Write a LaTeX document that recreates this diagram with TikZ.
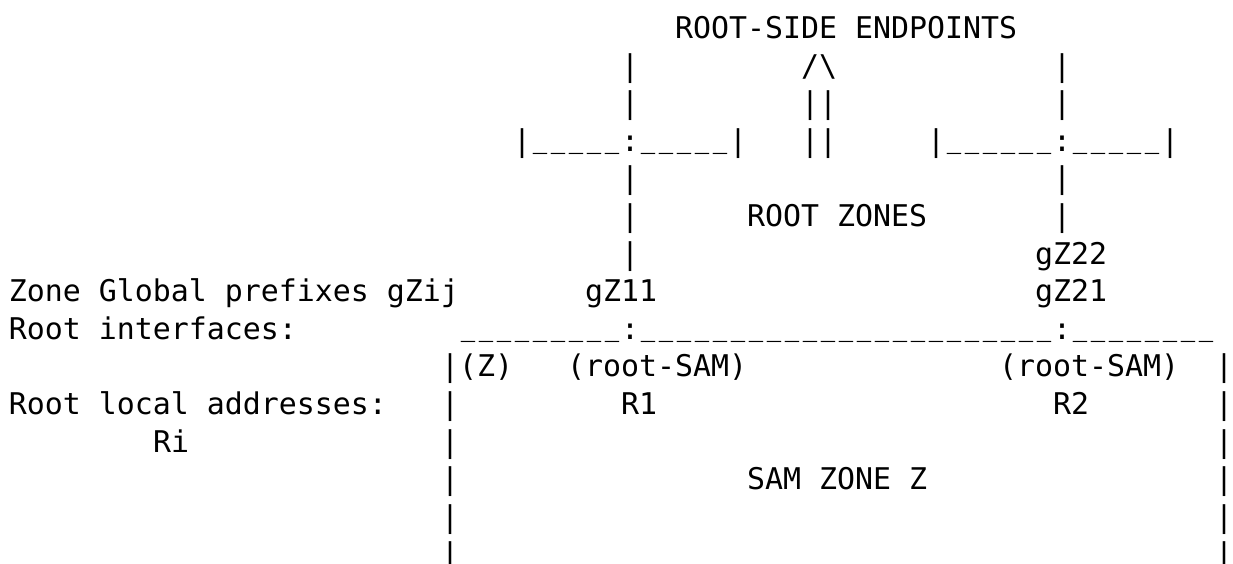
\documentclass[tikz,border=0pt]{standalone}
\usepackage{fontspec}
\usepackage{graphicx}
\setmonofont{DejaVu Sans Mono}

% one underscore cell, drawn a little narrower than the cell so runs stay dashed
\newcommand\usc{\makebox[18pt]{\raisebox{4pt}{\scalebox{0.8}[1]{\_}}}}
\ExplSyntaxOn
\cs_new_eq:NN \reprun \prg_replicate:nn
\ExplSyntaxOff

\begin{document}
\begin{tikzpicture}[x=1pt,y=1pt,
  txt/.style={anchor=base west, inner sep=0pt, outer sep=0pt,
    font=\ttfamily\fontsize{29.9}{37.6}\selectfont, text=black}]
\fill[white] (0,0) rectangle (1233,-563);
\useasboundingbox (0,0) rectangle (1233,-563);

% character grid: column c, row r
\begin{scope}[shift={(9pt,-38.5pt)}, x=18pt, y=-37.6pt]
  % root side
  \node[txt] (title) at (37,0) {ROOT-SIDE ENDPOINTS};
  \node[txt] (lup1) at (34,1) {|};
  \node[txt] (arrowhead) at (44,1) {/\textbackslash};
  \node[txt] (rup1) at (58,1) {|};
  \node[txt] (lup2) at (34,2) {|};
  \node[txt] (shaftA) at (44,2) {||};
  \node[txt] (rup2) at (58,2) {|};
  \node[txt] (lbar) at (28,3) {|\reprun{5}{\usc}:\reprun{5}{\usc}|};
  \node[txt] (shaftB) at (44,3) {||};
  \node[txt] (rbar) at (51,3) {|\reprun{6}{\usc}:\reprun{5}{\usc}|};
  \node[txt] (ldn1) at (34,4) {|};
  \node[txt] (rdn1) at (58,4) {|};
  \node[txt] (ldn2) at (34,5) {|};
  \node[txt] (rootzones) at (41,5) {ROOT ZONES};
  \node[txt] (rdn2) at (58,5) {|};
  \node[txt] (ldn3) at (34,6) {|};
  \node[txt] (gz22) at (57,6) {gZ22};

  % prefixes and interfaces
  \node[txt] (lblprefix) at (0,7) {Zone Global prefixes gZij};
  \node[txt] (gz11) at (32,7) {gZ11};
  \node[txt] (gz21) at (57,7) {gZ21};
  \node[txt] (lblif) at (0,8) {Root interfaces:};
  \node[txt] (ifline) at (25,8) {\reprun{9}{\usc}:\reprun{23}{\usc}:\reprun{8}{\usc}};

  % SAM zone box
  \node[txt] (zl9) at (24,9) {|(Z)};
  \node[txt] (rsamA) at (31,9) {(root-SAM)};
  \node[txt] (rsamB) at (55,9) {(root-SAM)};
  \node[txt] (zr9) at (67,9) {|};
  \node[txt] (lbladdr) at (0,10) {Root local addresses:};
  \node[txt] (rA) at (34,10) {R1};
  \node[txt] (rB) at (58,10) {R2};
  \node[txt] (lblri) at (8,11) {Ri};
  \node[txt] (samzone) at (41,12) {SAM ZONE Z};
  \foreach \r in {10,...,14} {
    \node[txt] (zl\r) at (24,\r) {|};
    \node[txt] (zr\r) at (67,\r) {|};
  }
\end{scope}
\end{tikzpicture}
\end{document}
